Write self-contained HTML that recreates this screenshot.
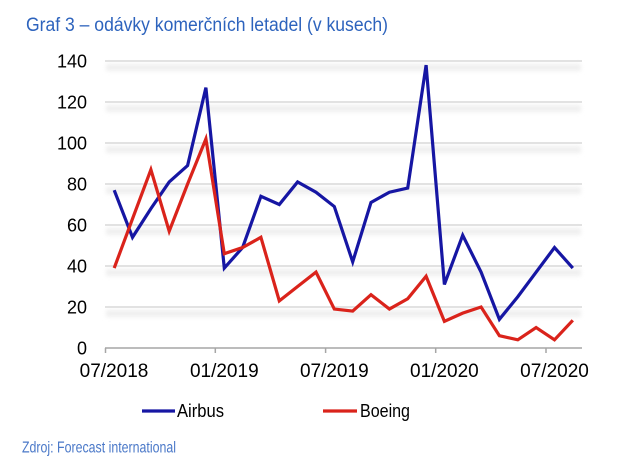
<!DOCTYPE html>
<html><head><meta charset="utf-8"><style>
html,body{margin:0;padding:0;background:#fff;}
svg{display:block;}
</style></head><body>
<svg width="624" height="466" viewBox="0 0 624 466" xmlns="http://www.w3.org/2000/svg">
<defs><filter id="b" x="-5%" y="-100%" width="110%" height="300%"><feGaussianBlur stdDeviation="2"/></filter></defs>
<rect width="624" height="466" fill="#fff"/>
<text x="26" y="31" font-family="Liberation Sans, sans-serif" font-size="19" fill="#2d63bd" textLength="362" lengthAdjust="spacingAndGlyphs">Graf 3 – odávky komerčních letadel (v kusech)</text>
<g filter="url(#b)" fill="#efefef">
<rect x="106" y="64" width="475" height="7"/>
<rect x="106" y="105" width="475" height="7"/>
<rect x="106" y="146" width="475" height="7"/>
<rect x="106" y="187" width="475" height="7"/>
<rect x="106" y="228" width="475" height="7"/>
<rect x="106" y="269" width="475" height="7"/>
<rect x="106" y="310" width="475" height="7"/>
</g>
<g stroke="#d9d9d9" stroke-width="1.5">
<line x1="105" y1="61" x2="582" y2="61"/>
<line x1="105" y1="102" x2="582" y2="102"/>
<line x1="105" y1="143" x2="582" y2="143"/>
<line x1="105" y1="184" x2="582" y2="184"/>
<line x1="105" y1="225" x2="582" y2="225"/>
<line x1="105" y1="266" x2="582" y2="266"/>
<line x1="105" y1="307" x2="582" y2="307"/>
</g>
<g stroke="#a6a6a6" stroke-width="1.5">
<line x1="105" y1="348" x2="582" y2="348"/>
<line x1="105.5" y1="348" x2="105.5" y2="353"/>
<line x1="215.3" y1="348" x2="215.3" y2="353"/>
<line x1="325.6" y1="348" x2="325.6" y2="353"/>
<line x1="435.7" y1="348" x2="435.7" y2="353"/>
<line x1="546" y1="348" x2="546" y2="353"/>
</g>
<g font-family="Liberation Sans, Arial, sans-serif" font-size="18" fill="#000" text-anchor="end">
<text x="87" y="67.5">140</text>
<text x="87" y="108.5">120</text>
<text x="87" y="149.5">100</text>
<text x="87" y="190.5">80</text>
<text x="87" y="231.5">60</text>
<text x="87" y="272.5">40</text>
<text x="87" y="313.5">20</text>
<text x="87" y="354.5">0</text>
</g>
<g font-family="Liberation Sans, Arial, sans-serif" font-size="19" fill="#000" text-anchor="middle">
<text x="114" y="377">07/2018</text>
<text x="224.3" y="377">01/2019</text>
<text x="334.3" y="377">07/2019</text>
<text x="444.4" y="377">01/2020</text>
<text x="554.5" y="377">07/2020</text>
</g>
<polyline fill="none" stroke="#1616a3" stroke-width="3.2" stroke-linejoin="miter" stroke-miterlimit="4" points="114.2,190.15 132.5,237.3 150.9,208.6 169.2,181.95 187.6,165.55 205.9,87.65 224.3,268.05 242.6,247.55 260.9,196.3 279.3,204.5 297.6,181.95 316.0,192.2 334.3,206.55 352.7,261.9 371.0,202.45 389.4,192.2 407.7,188.1 426.1,65.1 444.4,284.45 462.7,235.25 481.1,272.15 499.4,319.3 517.8,296.75 536.1,272.15 554.5,247.55 572.8,268.05"/>
<polyline fill="none" stroke="#da231b" stroke-width="3.2" stroke-linejoin="miter" stroke-miterlimit="4" points="114.2,268.05 132.5,218.85 150.9,169.65 169.2,231.15 187.6,184 205.9,138.9 224.3,253.7 242.6,247.55 260.9,237.3 279.3,300.85 297.6,286.5 316.0,272.15 334.3,309.05 352.7,311.1 371.0,294.7 389.4,309.05 407.7,298.8 426.1,276.25 444.4,321.35 462.7,313.15 481.1,307 499.4,335.7 517.8,339.8 536.1,327.5 554.5,339.8 572.8,320.3"/>
<line x1="142" y1="411" x2="175" y2="411" stroke="#1616a3" stroke-width="3.2"/>
<text x="177" y="417" font-family="Liberation Sans, Arial, sans-serif" font-size="18" fill="#000" textLength="47" lengthAdjust="spacingAndGlyphs">Airbus</text>
<line x1="323" y1="411" x2="357" y2="411" stroke="#da231b" stroke-width="3.2"/>
<text x="360" y="417" font-family="Liberation Sans, Arial, sans-serif" font-size="18" fill="#000" textLength="50" lengthAdjust="spacingAndGlyphs">Boeing</text>
<text x="22" y="452.5" font-family="Liberation Sans, sans-serif" font-size="16" fill="#4a78c8" textLength="154" lengthAdjust="spacingAndGlyphs">Zdroj: Forecast international</text>
</svg>
</body></html>
